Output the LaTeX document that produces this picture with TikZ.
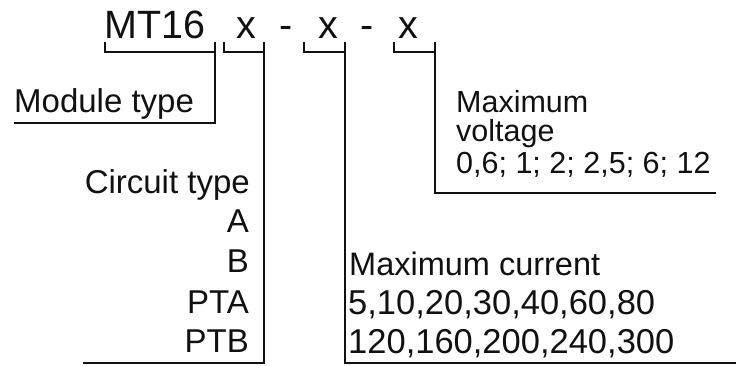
\documentclass[tikz,border=0pt]{standalone}
\usepackage{fontspec}
\setmainfont{Liberation Sans}
\usepackage{tikz}
\definecolor{LeaderInk}{HTML}{111111}
\definecolor{TextInk}{HTML}{111111}

\begin{document}
\begin{tikzpicture}[x=1pt,y=-1pt,
  every node/.style={inner sep=0pt, anchor=base west, text=TextInk, font=\fontsize{33}{40}\selectfont},
  codetext/.style={font=\fontsize{39.5}{44}\selectfont},
  smalltext/.style={font=\fontsize{30.5}{36}\selectfont},
  numtext/.style={font=\fontsize{34.5}{40}\selectfont},
  leader/.style={draw=LeaderInk, line width=1.5pt}]
  \useasboundingbox (0,0) rectangle (736,365);
  \node[codetext] (mt) at (104,38) {MT16};
  \node[codetext, anchor=base] (cx1) at (246,38) {x};
  \node[codetext, anchor=base] (dash1) at (286,38) {-};
  \node[codetext, anchor=base] (cx2) at (328,38) {x};
  \node[codetext, anchor=base] (dash2) at (367,38) {-};
  \node[codetext, anchor=base] (cx3) at (408,38) {x};
  \node (modtype) at (14,112) {Module type};
  \node[smalltext] (volt) at (456,112) {Maximum};
  \node[smalltext] (volt2) at (456,141) {voltage};
  \node[smalltext] (voltvals) at (456,173) {0,6; 1; 2; 2,5; 6; 12};
  \node[anchor=base east] (circ) at (250,193) {Circuit type};
  \node[anchor=base east] (circa) at (249,232) {A};
  \node[anchor=base east] (circb) at (249,272) {B};
  \node[anchor=base east] (circpta) at (249,313) {PTA};
  \node[anchor=base east] (circptb) at (249,352) {PTB};
  \node[font=\fontsize{32.5}{40}\selectfont] (curr) at (349,275) {Maximum current};
  \node[numtext] (curr1) at (348,314) {5,10,20,30,40,60,80};
  \node[numtext] (curr2) at (348,353) {120,160,200,240,300};
  \coordinate (mtl) at (105,42);
  \coordinate (mtr) at (215,42);
  \foreach \l/\r in {224/264, 304/345, 394/435} {
    \draw[leader] (\l,42) -- (\l,52) -- (\r,52);
  }
  \draw[leader] (mtl) -- ++(0,10) -| (mtr) -- (mtr |- 0,123) -- (14,123);
  \draw[leader] (264,42) -- (264,363) -- (83,363);
  \draw[leader] (345,42) -- (345,363) -- (736,363);
  \draw[leader] (435,42) -- (435,193) -- (716,193);
\end{tikzpicture}
\end{document}
